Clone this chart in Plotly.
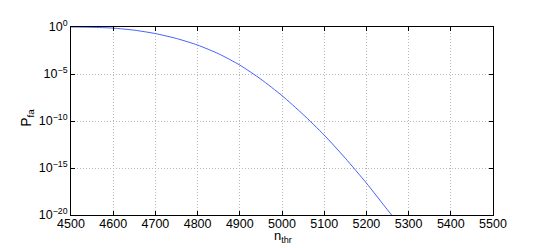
import plotly.graph_objects as go

# threshold values (x) and false-alarm probability
n_thr = [4500, 4550, 4600, 4650, 4700, 4750, 4800, 4850, 4900, 4950,
         5000, 5050, 5100, 5150, 5200, 5250, 5265]
p_fa = [1.0, 0.93, 0.76, 0.46, 0.20, 6.0e-2, 1.2e-2, 1.4e-3, 8.9e-5, 2.8e-6,
        5.0e-8, 5.0e-10, 3.2e-12, 1.1e-14, 2.5e-17, 3.5e-20, 5.0e-21]

x_ticks = list(range(4500, 5501, 100))
y_ticks = [1e-20, 1e-15, 1e-10, 1e-5, 1]
y_ticktext = ["10<sup>\u221220</sup>", "10<sup>\u221215</sup>", "10<sup>\u221210</sup>",
              "10<sup>\u22125</sup>", "10<sup>0</sup>"]

font_family = "Liberation Sans, Arial, sans-serif"

fig = go.Figure(go.Scatter(
    x=n_thr, y=p_fa, mode="lines",
    line=dict(color="#2f4fff", width=0.9, shape="spline", smoothing=0.6),
    showlegend=False))

axis_common = dict(
    showline=True, linecolor="black", linewidth=1, mirror="ticks",
    ticks="inside", ticklen=4, tickcolor="black",
    showgrid=True, gridcolor="#b8b8b8", griddash="1px,2px", gridwidth=1,
    zeroline=False,
    tickfont=dict(family=font_family, size=12.5, color="black"),
)

fig.update_xaxes(range=[4500, 5500], tickvals=x_ticks, ticklabelstandoff=-3, **axis_common)
fig.update_yaxes(type="log", range=[-20, 0], tickvals=y_ticks, ticktext=y_ticktext,
                 **axis_common)

# axis titles placed as annotations so they sit where the reference has them
fig.add_annotation(text="n<sub>thr</sub>", xref="paper", yref="paper",
                   x=0.503, y=-0.06, xanchor="center", yanchor="top", showarrow=False,
                   font=dict(family=font_family, size=13, color="black"))
fig.add_annotation(text="P<sub>fa</sub>", xref="paper", yref="paper",
                   x=-0.104, y=0.518, xanchor="center", yanchor="middle", textangle=-90,
                   showarrow=False, font=dict(family=font_family, size=14, color="black"))

# page body has an 8px default margin, so the figure is 8px smaller than the window
fig.update_layout(
    width=537, height=240,
    margin=dict(l=63, r=52, t=10, b=33),
    paper_bgcolor="white", plot_bgcolor="white",
)

fig.write_html("out.html")
